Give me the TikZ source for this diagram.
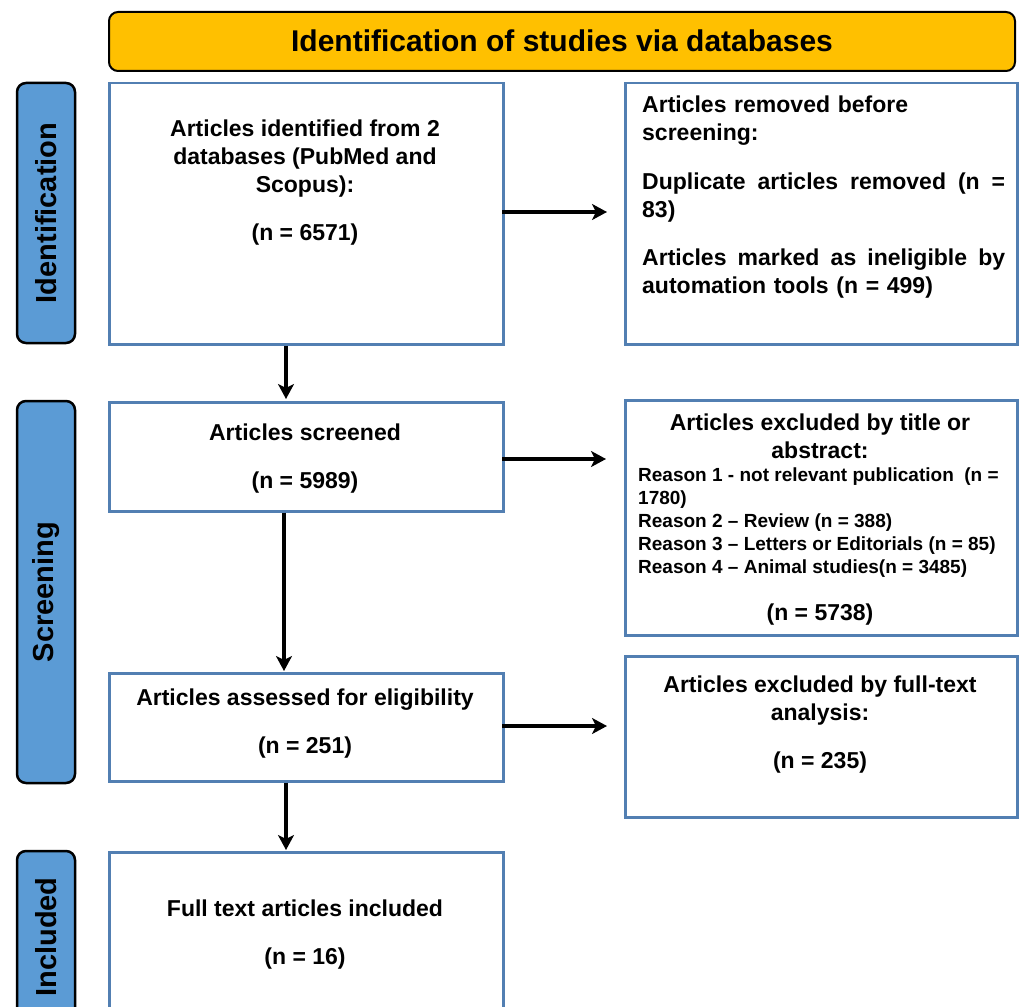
\documentclass[tikz,border=0pt]{standalone}
\usepackage{fontspec}
\setmainfont{Liberation Sans}
\usetikzlibrary{arrows.meta}
\definecolor{bannerfill}{HTML}{FFC000}
\definecolor{stagefill}{HTML}{5B9BD5}
\definecolor{boxline}{HTML}{527FB2}
\tikzset{
  banner/.style={draw=black, line width=2pt, fill=bannerfill, rounded corners=9pt},
  stage/.style={draw=black, line width=2.5pt, fill=stagefill, rounded corners=9pt},
  flowbox/.style={draw=boxline, line width=2.5pt, fill=white},
  stagetext/.style={font=\fontsize{29}{34}\selectfont\bfseries, rotate=90, inner sep=0pt},
  bigtext/.style={font=\fontsize{23}{28}\selectfont\bfseries, align=center, inner sep=0pt},
  smalltext/.style={font=\fontsize{19}{23}\selectfont\bfseries, align=left, inner sep=0pt},
  flowarrow/.style={draw=black, line width=3.2pt, -{Stealth[length=15pt,width=16pt,inset=4pt]}}
}
\begin{document}
\begin{tikzpicture}[x=1pt,y=-1pt]
\useasboundingbox (0,0) rectangle (1019,1006);
\clip (0,0) rectangle (1019,1006);
% banner
\path[banner] (109,12) rectangle (1015,71);
\node[font=\fontsize{30}{36}\selectfont\bfseries, inner sep=0pt] (title) at (562,41) {Identification of studies via databases};
% stage labels
\path[stage] (17,83) rectangle (75,343);
\node[stagetext] (lid) at (46,213) {Identification};
\path[stage] (17,401) rectangle (75,783);
\node[stagetext] (lsc) at (46,592) {Screening};
\path[stage] (17,851) rectangle (75,1030);
\node[stagetext] (lin) at (46,937) {Included};
% boxes
\node[flowbox, minimum width=394pt, minimum height=261pt, anchor=north west] (b1) at (108,82) {};
\node[flowbox, minimum width=392pt, minimum height=261pt, anchor=north west] (r1) at (624,82) {};
\node[flowbox, minimum width=394pt, minimum height=109pt, anchor=north west] (b2) at (108,401) {};
\node[flowbox, minimum width=392pt, minimum height=235pt, anchor=north west] (r2) at (624,399) {};
\node[flowbox, minimum width=394pt, minimum height=108pt, anchor=north west] (b3) at (108,672) {};
\node[flowbox, minimum width=392pt, minimum height=161pt, anchor=north west] (r3) at (624,655) {};
\node[flowbox, minimum width=394pt, minimum height=190pt, anchor=north west] (b4) at (108,851) {};
% texts
\node[bigtext, anchor=north] (t1) at (305,119.5) {Articles identified from 2\\databases (PubMed and\\Scopus):\\[20pt](n = 6571)};
\node[bigtext, anchor=north west, align=left, text width=363pt] (tr1) at (642,95.5)
  {Articles removed before\\screening:\\[21.5pt]\makebox[363pt][l]{Duplicate\hfill articles\hfill removed\hfill (n\hfill =}\\83)\\[19.5pt]\makebox[363pt][l]{Articles\hfill marked\hfill as\hfill ineligible\hfill by}\\automation tools (n = 499)};
\node[bigtext, anchor=north] (t2) at (305,423.5) {Articles screened\\[20pt](n = 5989)};
\node[bigtext, anchor=north] (tr2a) at (820,413.5) {Articles excluded by title or\\abstract:};
\node[smalltext, anchor=north west] (tr2b) at (638,468) {Reason 1 - not relevant publication\ \ (n =\\1780)\\Reason 2 -- Review (n = 388)\\Reason 3 -- Letters or Editorials (n = 85)\\Reason 4 -- Animal studies(n = 3485)};
\node[bigtext, anchor=north] (tr2c) at (820,603.5) {(n = 5738)};
\node[bigtext, anchor=north] (t3) at (305,688.5) {Articles assessed for eligibility\\[20pt](n = 251)};
\node[bigtext, anchor=north] (tr3) at (820,675.5) {Articles excluded by full-text\\analysis:\\[20pt](n = 235)};
\node[bigtext, anchor=north] (t4) at (305,899.5) {Full text articles included\\[20pt](n = 16)};
% arrows
\coordinate (a1s) at (502,212); \coordinate (a1e) at (607,212);
\draw[flowarrow] (a1s) -- (a1e);
\coordinate (a2s) at (502,459); \coordinate (a2e) at (606,459);
\draw[flowarrow] (a2s) -- (a2e);
\coordinate (a3s) at (502,726); \coordinate (a3e) at (607,726);
\draw[flowarrow] (a3s) -- (a3e);
\draw[flowarrow] (b1.south -| 286,0) -- (286,399);
\draw[flowarrow] (b2.south -| 284,0) -- (284,671);
\draw[flowarrow] (b3.south -| 286,0) -- (286,850);
\end{tikzpicture}
\end{document}
